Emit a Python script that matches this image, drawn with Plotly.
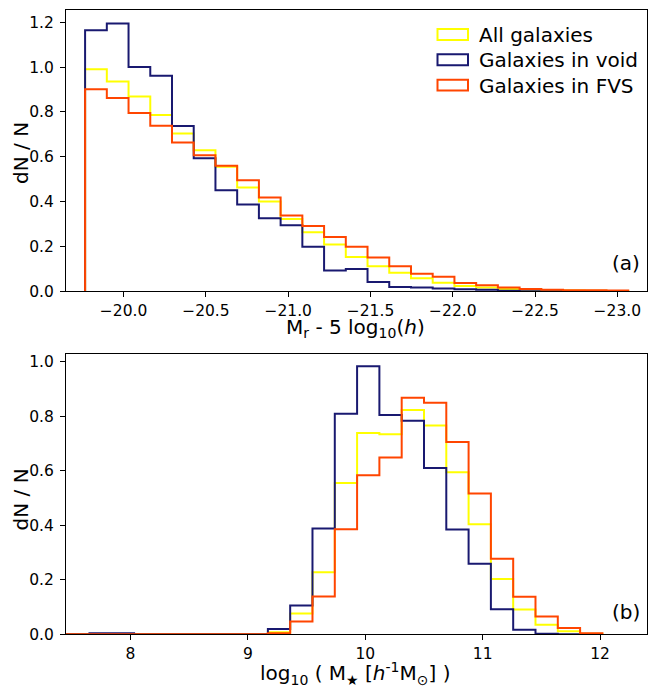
import plotly.graph_objects as go

# ---------------- data ----------------
series_names = ["All galaxies", "Galaxies in void", "Galaxies in FVS"]
series_colors = ["#FFFF00", "#191970", "#FF4500"]

# Panel (a): absolute magnitude histogram
mr_edges = [-19.766, -19.898, -20.030, -20.162, -20.294, -20.426, -20.558,
            -20.690, -20.822, -20.954, -21.086, -21.218, -21.350, -21.482,
            -21.614, -21.746, -21.878, -22.010, -22.142, -22.274, -22.406,
            -22.538, -22.670, -22.802, -22.934, -23.066]
mr_all = [0.991, 0.936, 0.869, 0.787, 0.704, 0.629, 0.555, 0.463, 0.400,
          0.322, 0.263, 0.208, 0.153, 0.111, 0.082, 0.058, 0.038, 0.023,
          0.016, 0.010, 0.006, 0.004, 0.003, 0.002, 0.001]
mr_void = [1.165, 1.195, 1.001, 0.962, 0.737, 0.594, 0.451, 0.387, 0.325,
           0.294, 0.198, 0.092, 0.099, 0.041, 0.019, 0.016, 0.012, 0.009,
           0.006, 0.002, 0.0, 0.0, 0.0, 0.0, 0.0]
mr_fvs = [0.902, 0.863, 0.795, 0.739, 0.664, 0.607, 0.560, 0.495, 0.418,
          0.338, 0.291, 0.242, 0.198, 0.150, 0.111, 0.078, 0.064, 0.036,
          0.026, 0.016, 0.010, 0.006, 0.004, 0.004, 0.003]

# Panel (b): stellar mass histogram
mass_edges = [7.27, 7.46, 7.65, 7.84, 8.03, 8.22, 8.41, 8.60, 8.79, 8.98,
              9.17, 9.36, 9.55, 9.74, 9.93, 10.12, 10.31, 10.50, 10.69,
              10.88, 11.07, 11.26, 11.45, 11.64, 11.83, 12.02]
mass_all = [0.0, 0.0, 0.001, 0.001, 0.0, 0.0, 0.0, 0.0, 0.0, 0.0,
            0.008, 0.076, 0.228, 0.555, 0.739, 0.734, 0.823, 0.766, 0.595,
            0.404, 0.203, 0.091, 0.035, 0.011, 0.002]
mass_void = [0.0, 0.0, 0.004, 0.004, 0.0, 0.0, 0.0, 0.0, 0.0, 0.0,
             0.020, 0.106, 0.388, 0.809, 0.984, 0.805, 0.784, 0.610, 0.385,
             0.259, 0.092, 0.017, 0.002, 0.0, 0.0]
mass_fvs = [0.0, 0.0, 0.0005, 0.0005, 0.0, 0.0, 0.0, 0.0, 0.0, 0.0,
            0.004, 0.047, 0.139, 0.386, 0.584, 0.649, 0.868, 0.850, 0.706,
            0.517, 0.277, 0.138, 0.065, 0.023, 0.004]

mr_tickvals = [-20.0, -20.5, -21.0, -21.5, -22.0, -22.5, -23.0]
mr_ticktext = ["\u221220.0", "\u221220.5", "\u221221.0", "\u221221.5",
               "\u221222.0", "\u221222.5", "\u221223.0"]
mass_tickvals = [8, 9, 10, 11, 12]
mass_ticktext = ["8", "9", "10", "11", "12"]
top_ytickvals = [0.0, 0.2, 0.4, 0.6, 0.8, 1.0, 1.2]
top_yticktext = ["0.0", "0.2", "0.4", "0.6", "0.8", "1.0", "1.2"]
bot_ytickvals = [0.0, 0.2, 0.4, 0.6, 0.8, 1.0]
bot_yticktext = ["0.0", "0.2", "0.4", "0.6", "0.8", "1.0"]

# ---------------- figure ----------------
W, H = 648, 691
FONT = "DejaVu Sans"


def step_xy(edges, vals):
    x = [edges[0]] + list(edges[:-1]) + [edges[-1]]
    y = [0.0] + list(vals) + [0.0]
    return x, y


fig = go.Figure()
top_sets = [mr_all, mr_void, mr_fvs]
bot_sets = [mass_all, mass_void, mass_fvs]
for name, col, vals in zip(series_names, series_colors, top_sets):
    x, y = step_xy(mr_edges, vals)
    fig.add_trace(go.Scatter(x=x, y=y, mode="lines", line=dict(color=col, width=2, shape="hv"),
                             name=name, showlegend=False, xaxis="x", yaxis="y"))
for name, col, vals in zip(series_names, series_colors, bot_sets):
    x, y = step_xy(mass_edges, vals)
    fig.add_trace(go.Scatter(x=x, y=y, mode="lines", line=dict(color=col, width=2, shape="hv"),
                             name=name, showlegend=False, xaxis="x2", yaxis="y2"))


def px(x):
    return x / W


def py(y):
    return 1 - y / H


x_dom = [px(66), px(647)]
axis_common = dict(showline=True, mirror=True, linecolor="black", linewidth=1,
                   ticks="outside", ticklen=5, tickwidth=1, tickcolor="black",
                   showgrid=False, zeroline=False,
                   tickfont=dict(family=FONT, size=15.5, color="black"))

fig.update_layout(
    width=W, height=H,
    margin=dict(l=0, r=0, t=0, b=0),
    paper_bgcolor="white", plot_bgcolor="white",
    showlegend=False,
    font=dict(family=FONT, color="black"),
    xaxis=dict(domain=x_dom, range=[-19.65, -23.18], anchor="y",
               tickmode="array", tickvals=mr_tickvals, ticktext=mr_ticktext, **axis_common),
    yaxis=dict(domain=[py(295), py(10)], range=[0, 1.256], anchor="x",
               tickmode="array", tickvals=top_ytickvals, ticktext=top_yticktext,
               ticklabelstandoff=3, **axis_common),
    xaxis2=dict(domain=x_dom, range=[7.45, 12.40], anchor="y2",
                tickmode="array", tickvals=mass_tickvals, ticktext=mass_ticktext, **axis_common),
    yaxis2=dict(domain=[py(642.7), py(358.3)], range=[0, 1.03], anchor="x2",
                tickmode="array", tickvals=bot_ytickvals, ticktext=bot_yticktext,
                ticklabelstandoff=3, **axis_common),
)

annotations = []
# axis titles
annotations.append(dict(text="M<sub>r</sub> - 5 log<sub>10</sub>(<i>h</i>)", x=px(355), y=py(332),
                        xref="paper", yref="paper", showarrow=False, xanchor="center", yanchor="middle",
                        font=dict(family=FONT, size=20)))
annotations.append(dict(text="log<sub>10</sub> ( M<sub>\u2605</sub> [<i>h</i><sup>-1</sup>M<sub>\u2299</sub>] )",
                        x=px(355), y=py(682), xref="paper", yref="paper", showarrow=False,
                        xanchor="center", yanchor="middle", font=dict(family=FONT, size=20)))
for yc in (155, 506):
    annotations.append(dict(text="dN / N", x=px(21), y=py(yc), xref="paper", yref="paper",
                            showarrow=False, textangle=-90, xanchor="center", yanchor="middle",
                            font=dict(family=FONT, size=20)))
# panel labels
annotations.append(dict(text="(a)", x=px(642), y=py(266), xref="paper", yref="paper", showarrow=False,
                        xanchor="right", yanchor="middle", font=dict(family=FONT, size=20)))
annotations.append(dict(text="(b)", x=px(642), y=py(620), xref="paper", yref="paper", showarrow=False,
                        xanchor="right", yanchor="middle", font=dict(family=FONT, size=20)))

# legend (box-outline patches like the reference)
shapes = []
leg_rows = [(29.5, 40.5, 35.5), (55, 66, 61), (80.8, 91.8, 86.8)]
for (y0, y1, yc), name, col in zip(leg_rows, series_names, series_colors):
    shapes.append(dict(type="rect", xref="paper", yref="paper", x0=px(437.5), x1=px(468),
                       y0=py(y1), y1=py(y0), line=dict(color=col, width=2),
                       fillcolor="rgba(0,0,0,0)"))
    annotations.append(dict(text=name, x=px(477), y=py(yc), xref="paper", yref="paper",
                            showarrow=False, xanchor="left", yanchor="middle",
                            font=dict(family=FONT, size=20)))

fig.update_layout(annotations=annotations, shapes=shapes)
fig.write_html("out.html")
